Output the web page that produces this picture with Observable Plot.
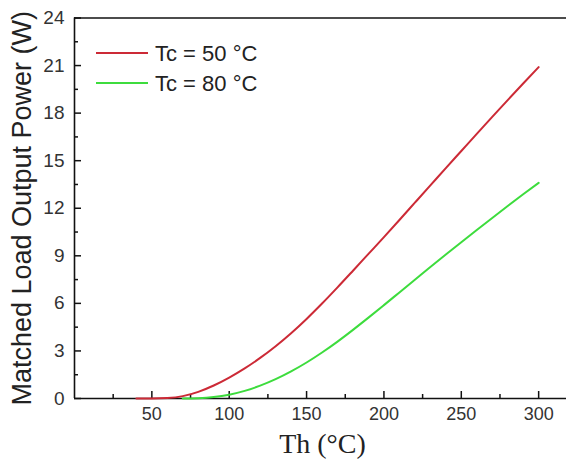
<!DOCTYPE html>
<html>
<head>
<meta charset="utf-8">
<script src="https://cdn.jsdelivr.net/npm/d3@7"></script>
<script src="https://cdn.jsdelivr.net/npm/@observablehq/plot@0.6"></script>
<style>
  html, body { margin: 0; padding: 0; background: #fff; }
  #chart svg { display: block; }
</style>
</head>
<body>
<div id="chart"></div>
<script>
// Tc = 50 °C series
const thRed = [40, 50, 60, 70, 80, 90, 100, 110, 120, 130, 140, 150, 160, 170, 180, 190, 200, 210, 220, 230, 240, 250, 260, 270, 280, 290, 300];
const pRed  = [0, 0, 0.03, 0.15, 0.42, 0.82, 1.32, 1.9, 2.56, 3.3, 4.12, 5.02, 5.99, 7.01, 8.06, 9.12, 10.18, 11.26, 12.35, 13.44, 14.53, 15.61, 16.69, 17.76, 18.82, 19.87, 20.9];
// Tc = 80 °C series
const thGreen = [70, 80, 90, 100, 110, 120, 130, 140, 150, 160, 170, 180, 190, 200, 210, 220, 230, 240, 250, 260, 270, 280, 290, 300];
const pGreen  = [0, 0.02, 0.09, 0.24, 0.48, 0.81, 1.22, 1.71, 2.27, 2.9, 3.59, 4.33, 5.1, 5.89, 6.69, 7.49, 8.29, 9.08, 9.86, 10.63, 11.39, 12.14, 12.88, 13.6];

const seriesNames = ["Tc = 50 °C", "Tc = 80 °C"];
const seriesColors = ["#cc2a36", "#3ddc3d"];

const xTicks = [50, 100, 150, 200, 250, 300];
const xMinor = [25, 75, 125, 175, 225, 275];
const yTicks = [0, 3, 6, 9, 12, 15, 18, 21, 24];
const yMinor = [1.5, 4.5, 7.5, 10.5, 13.5, 16.5, 19.5, 22.5];

const xLabel = "Th (°C)";
const yLabel = "Matched Load Output Power (W)";

const red = thRed.map((t, i) => ({th: t, p: pRed[i]}));
const green = thGreen.map((t, i) => ({th: t, p: pGreen[i]}));

const W = 566, H = 464;
const mL = 74, mR = 0, mT = 17.5, mB = 66;
const plotW = W - mL - mR, plotH = H - mT - mB;
const sans = "'Liberation Sans', Arial, Helvetica, sans-serif";
const serif = "'Liberation Serif', 'Times New Roman', serif";

const chart = Plot.plot({
  width: W,
  height: H,
  marginLeft: mL,
  marginRight: mR,
  marginTop: mT,
  marginBottom: mB,
  style: {fontFamily: sans, background: "#fff", color: "#222"},
  x: {domain: [0, 318]},
  y: {domain: [0, 24]},
  marks: [
    // frame lines
    Plot.ruleY([0, 24], {stroke: "#111", strokeWidth: 1.6}),
    Plot.ruleX([0], {stroke: "#111", strokeWidth: 1.6}),
    // inward ticks
    Plot.tickX(xTicks, {x: d => d, insetTop: plotH - 7, stroke: "#111", strokeWidth: 1.5}),
    Plot.tickX(xMinor, {x: d => d, insetTop: plotH - 4, stroke: "#111", strokeWidth: 1.5}),
    Plot.tickY(yTicks, {y: d => d, insetRight: plotW - 7, stroke: "#111", strokeWidth: 1.5}),
    Plot.tickY(yMinor, {y: d => d, insetRight: plotW - 4, stroke: "#111", strokeWidth: 1.5}),
    // axes labels
    Plot.axisX({ticks: xTicks, tickSize: 0, tickPadding: 9, fontSize: 18, label: null, fill: "#333"}),
    Plot.axisY({ticks: yTicks, tickSize: 0, tickPadding: 10, fontSize: 19, label: null, fill: "#333"}),
    // data lines
    Plot.line(red, {x: "th", y: "p", stroke: seriesColors[0], strokeWidth: 2, curve: "monotone-x"}),
    Plot.line(green, {x: "th", y: "p", stroke: seriesColors[1], strokeWidth: 2, curve: "monotone-x"}),
    // axis titles
    Plot.text([xLabel], {frameAnchor: "bottom", textAnchor: "middle", dx: 2, dy: 46, fontSize: 28, fontFamily: serif, fill: "#222", lineAnchor: "middle"}),
    Plot.text([yLabel], {frameAnchor: "left", textAnchor: "middle", dx: -52, rotate: -90, fontSize: 27, fill: "#222", lineAnchor: "middle"})
  ]
});

// legend inside plot area
const svg = d3.select(chart);
const leg = svg.append("g").attr("font-family", sans).attr("font-size", 22).attr("fill", "#222").attr("text-anchor", "start");
seriesNames.forEach((name, i) => {
  const y = 53 + i * 30;
  leg.append("line").attr("x1", 96).attr("x2", 148).attr("y1", y).attr("y2", y)
    .attr("stroke", seriesColors[i]).attr("stroke-width", 2);
  leg.append("text").attr("x", 155).attr("y", y).attr("dy", "0.36em").attr("text-anchor", "start").text(name);
});

document.getElementById("chart").appendChild(chart);
</script>
</body>
</html>
